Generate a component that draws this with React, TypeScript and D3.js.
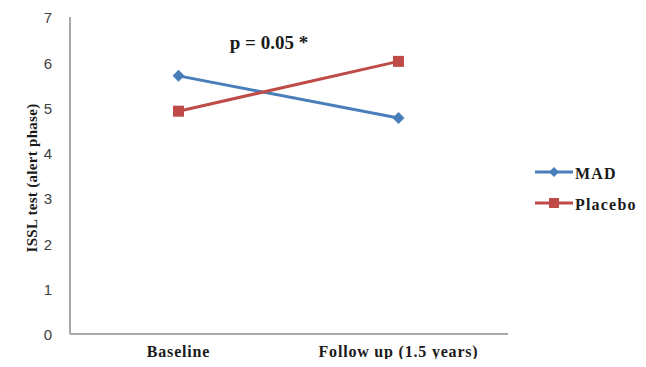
import { useEffect, useRef } from 'react'
import * as d3 from 'd3'

const categories = ['Baseline', 'Follow up (1.5 years)']
const madValues = [5.7, 4.77]
const placeboValues = [4.92, 6.02]
const yTicks = [0, 1, 2, 3, 4, 5, 6, 7]

const series = [
  { name: 'MAD', values: madValues, color: '#4A7EBB', marker: 'diamond' },
  { name: 'Placebo', values: placeboValues, color: '#BE4B48', marker: 'square' },
]

const serif = '"Liberation Serif", "Times New Roman", serif'

const App = () => {
  const svgRef = useRef<SVGSVGElement | null>(null)

  useEffect(() => {
    const width = 646
    const height = 367
    const left = 70
    const right = 508
    const top = 17
    const bottom = 334

    const svg = d3.select(svgRef.current)
      .attr('width', width)
      .attr('height', height)
    svg.selectAll('*').remove()

    const x = d3.scaleBand().domain(categories).range([left - 1.5, right + 0.5])
    const y = d3.scaleLinear().domain([0, 7]).range([bottom, top])

    // axes
    svg.append('line')
      .attr('x1', left).attr('x2', left)
      .attr('y1', top).attr('y2', bottom)
      .attr('stroke', '#8c8c8c').attr('stroke-width', 1.5)
    svg.append('line')
      .attr('x1', left).attr('x2', right)
      .attr('y1', bottom).attr('y2', bottom)
      .attr('stroke', '#8c8c8c').attr('stroke-width', 1.5)

    svg.selectAll('text.ytick')
      .data(yTicks)
      .join('text')
      .attr('class', 'ytick')
      .attr('x', 48)
      .attr('y', d => y(d) + 1)
      .attr('dy', '0.35em')
      .style('text-anchor', 'middle')
      .style('font-family', '"Liberation Sans", Arial, sans-serif')
      .style('font-size', '15px')
      .style('fill', '#404040')
      .text(d => d)

    svg.selectAll('text.xtick')
      .data(categories)
      .join('text')
      .attr('class', 'xtick')
      .attr('x', d => (x(d) ?? 0) + x.bandwidth() / 2)
      .attr('y', 357)
      .style('text-anchor', 'middle')
      .style('font-family', serif)
      .style('font-weight', 'bold')
      .style('font-size', '16px')
      .style('letter-spacing', '0.8px')
      .style('fill', '#1a1a1a')
      .text(d => d)

    svg.append('text')
      .attr('transform', `translate(37, ${178}) rotate(-90)`)
      .style('text-anchor', 'middle')
      .style('font-family', serif)
      .style('font-weight', 'bold')
      .style('font-size', '15px')
      .style('letter-spacing', '0.3px')
      .style('fill', '#1a1a1a')
      .text('ISSL test (alert phase)')

    svg.append('text')
      .attr('x', 269)
      .attr('y', 49)
      .style('text-anchor', 'middle')
      .style('font-family', serif)
      .style('font-weight', 'bold')
      .style('font-size', '19px')
      .style('fill', '#1a1a1a')
      .text('p = 0.05 *')

    const line = d3.line<number>()
      .x((d, i) => (x(categories[i]) ?? 0) + x.bandwidth() / 2)
      .y(d => y(d))

    const drawMarker = (g: any, kind: string, cx: number, cy: number, color: string, s: number) => {
      if (kind === 'diamond') {
        g.append('path')
          .attr('d', `M${cx},${cy - s} L${cx + s},${cy} L${cx},${cy + s} L${cx - s},${cy} Z`)
          .attr('fill', color)
      } else {
        g.append('rect')
          .attr('x', cx - s).attr('y', cy - s)
          .attr('width', s * 2).attr('height', s * 2)
          .attr('fill', color)
      }
    }

    series.forEach(s => {
      const g = svg.append('g')
      g.append('path')
        .attr('d', line(s.values))
        .attr('fill', 'none')
        .attr('stroke', s.color)
        .attr('stroke-width', 3)
      s.values.forEach((v, i) => {
        const cx = (x(categories[i]) ?? 0) + x.bandwidth() / 2
        drawMarker(g, s.marker, cx, y(v), s.color, s.marker === 'diamond' ? 6 : 5.5)
      })
    })

    // legend
    const legend = svg.append('g')
    series.forEach((s, i) => {
      const ly = 172 + i * 31
      legend.append('line')
        .attr('x1', 535).attr('x2', 573)
        .attr('y1', ly).attr('y2', ly)
        .attr('stroke', s.color).attr('stroke-width', 3)
      drawMarker(legend, s.marker, 554, ly, s.color, 5)
      legend.append('text')
        .attr('x', 575)
        .attr('y', ly + 1)
        .attr('dy', '0.35em')
        .style('font-family', serif)
        .style('font-weight', 'bold')
        .style('font-size', '16px')
        .style('letter-spacing', '1.2px')
        .style('fill', '#1a1a1a')
        .text(s.name)
    })
  }, [])

  return (
    <div style={{ margin: -8 }}>
      <svg ref={svgRef} style={{ display: 'block', background: '#fff' }}></svg>
    </div>
  )
}

export default App
